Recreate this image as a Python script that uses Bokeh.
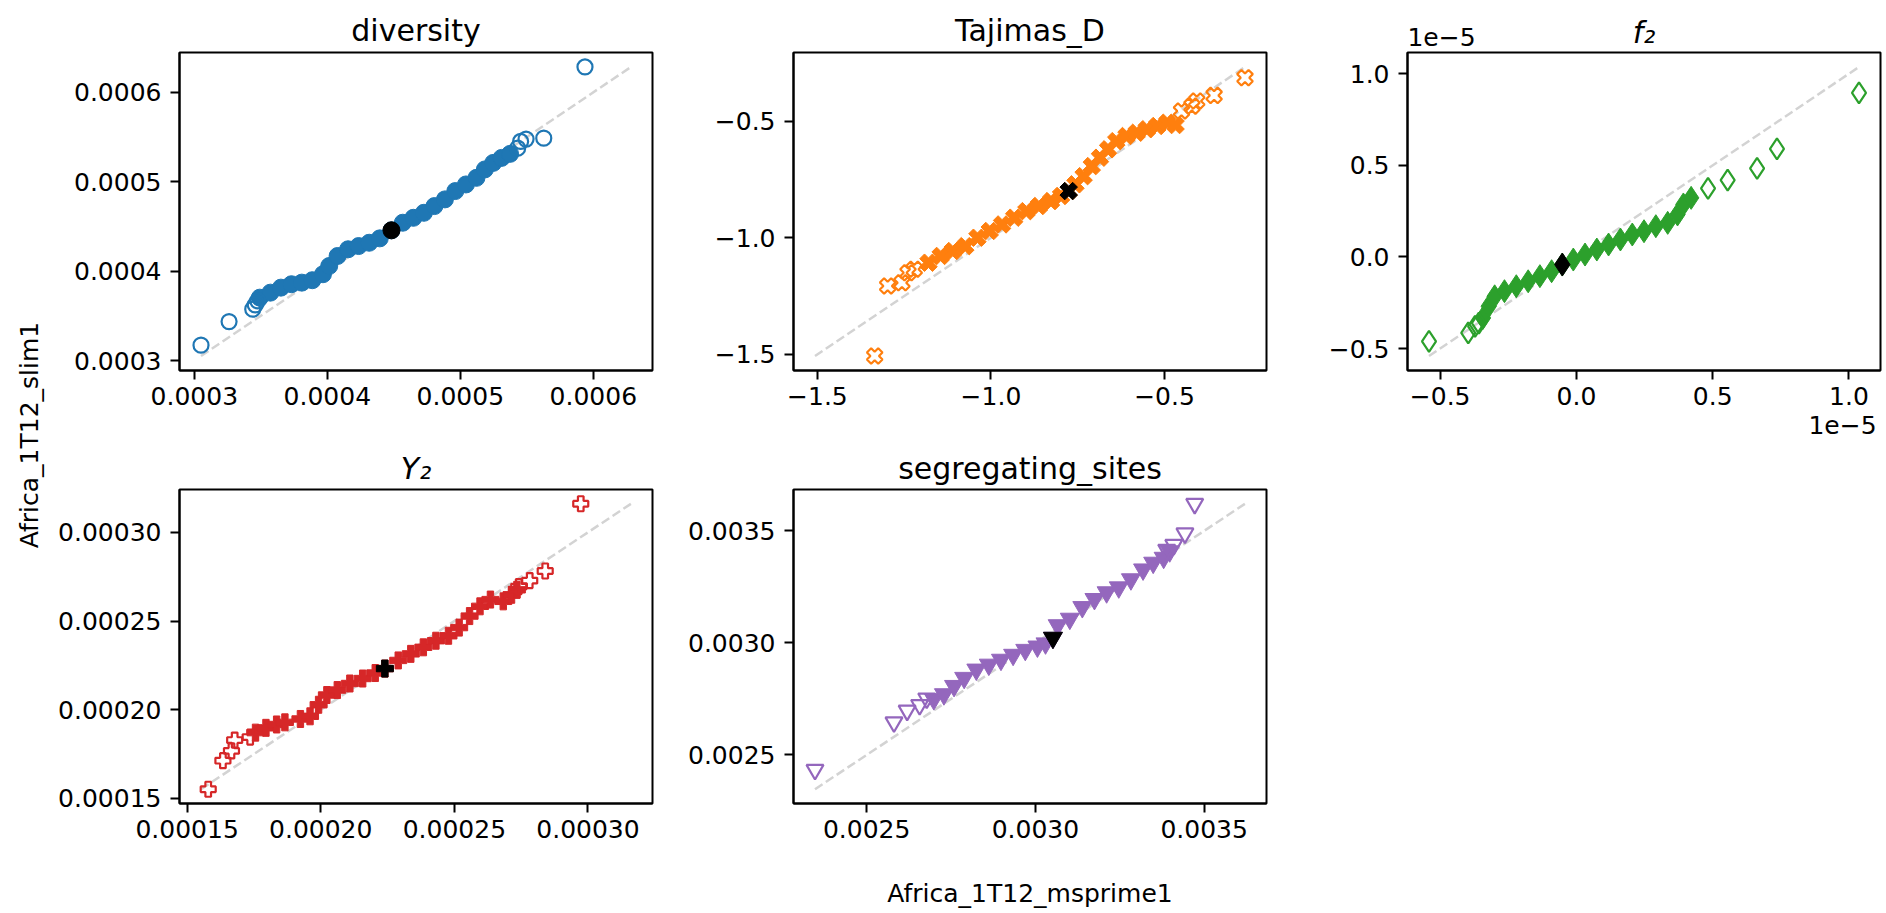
import math
from bokeh.plotting import figure
from bokeh.layouts import row, column
from bokeh.models import Range1d, FixedTicker, CustomJSTickFormatter, LinearAxis, Title
from bokeh.embed import file_html
from bokeh.resources import INLINE

FONT = "DejaVu Sans"

# ---------------- data ----------------
# diversity
div_band_x = [0.0003492, 0.0003572, 0.0003651, 0.0003730, 0.0003808, 0.0003887, 0.0003967, 0.0004014,
              0.0004077, 0.0004156, 0.0004235, 0.0004315, 0.0004394, 0.0004482, 0.0004567, 0.0004647,
              0.0004726, 0.0004805, 0.0004884, 0.0004962, 0.0005042, 0.0005121, 0.0005184, 0.0005247,
              0.0005310, 0.0005374]
div_band_y = [0.0003703, 0.0003759, 0.0003815, 0.0003853, 0.0003871, 0.0003898, 0.0003965, 0.0004057,
              0.0004169, 0.0004244, 0.0004280, 0.0004317, 0.0004366, 0.0004456, 0.0004541, 0.0004596,
              0.0004652, 0.0004727, 0.0004802, 0.0004895, 0.0004969, 0.0005043, 0.0005137, 0.0005210,
              0.0005266, 0.0005311]
div_tail_x = [0.0003050, 0.0003261, 0.0003439, 0.0003458, 0.0003476, 0.0005431, 0.0005453, 0.0005494,
              0.0005627, 0.0005937]
div_tail_y = [0.0003172, 0.0003435, 0.0003574, 0.0003622, 0.0003667, 0.0005375, 0.0005450, 0.0005476,
              0.0005487, 0.0006283]
div_mean_x = [0.0004482]
div_mean_y = [0.0004456]
div_ticks = [0.0003, 0.0004, 0.0005, 0.0006]

# Tajimas_D
taj_band_x = [-1.180, -1.145, -1.110, -1.074, -1.039, -1.0035, -0.968, -0.933, -0.898, -0.862, -0.827,
              -0.798, -0.776, -0.7565, -0.733, -0.7095, -0.686, -0.6625, -0.639, -0.6095, -0.580, -0.551,
              -0.521, -0.492, -0.468]
taj_band_y = [-1.107, -1.078, -1.057, -1.036, -1.000, -0.971, -0.943, -0.914, -0.886, -0.864, -0.843,
              -0.821, -0.800, -0.771, -0.736, -0.693, -0.657, -0.621, -0.586, -0.564, -0.550, -0.535,
              -0.521, -0.507, -0.517]
taj_tail_x = [-1.335, -1.2977, -1.2565, -1.239, -1.221, -0.451, -0.421, -0.407, -0.357, -0.268]
taj_tail_y = [-1.507, -1.207, -1.193, -1.150, -1.135, -0.457, -0.436, -0.414, -0.390, -0.314]
taj_mean_x = [-0.776]
taj_mean_y = [-0.800]
taj_ticks = [-1.5, -1.0, -0.5]

# f2 (values in units of 1e-5)
f2_band_x = [-0.343, -0.3216, -0.300, -0.264, -0.2206, -0.177, -0.134, -0.091, -0.0518, -0.0114, 0.0316,
             0.0749, 0.118, 0.1615, 0.205, 0.248, 0.2915, 0.335, 0.371, 0.3925, 0.421]
f2_band_y = [-0.333, -0.269, -0.215, -0.187, -0.160, -0.133, -0.105, -0.078, -0.0415, -0.0142, 0.0131,
             0.0404, 0.0678, 0.0951, 0.1224, 0.1404, 0.1678, 0.186, 0.2317, 0.2863, 0.3224]
f2_tail_x = [-0.541, -0.397, -0.372, -0.358, 0.483, 0.555, 0.663, 0.736, 1.037]
f2_tail_y = [-0.461, -0.415, -0.379, -0.361, 0.374, 0.419, 0.483, 0.590, 0.896]
f2_mean_x = [-0.0518]
f2_mean_y = [-0.0415]
f2_ticks = [-0.5, 0.0, 0.5, 1.0]
F2_OFFSET_TEXT = "1e\u22125"

# Y2
y2_band_x = [0.0001756, 0.0001795, 0.0001835, 0.0001866, 0.0001924, 0.0001960, 0.0001992, 0.0002023,
             0.0002062, 0.0002109, 0.0002157, 0.0002204, 0.0002240, 0.0002290, 0.0002337, 0.0002384,
             0.0002431, 0.0002478, 0.0002518, 0.0002557, 0.0002596, 0.0002635, 0.0002683, 0.0002714,
             0.0002734]
y2_band_y = [0.0001871, 0.0001898, 0.0001917, 0.0001929, 0.0001948, 0.0001963, 0.0002028, 0.0002083,
             0.0002111, 0.0002148, 0.0002176, 0.0002207, 0.0002232, 0.0002278, 0.0002315, 0.0002352,
             0.0002389, 0.0002417, 0.0002463, 0.0002528, 0.0002583, 0.0002621, 0.0002611, 0.0002648,
             0.0002676]
y2_tail_x = [0.0001579, 0.0001634, 0.0001666, 0.0001678, 0.0001736, 0.0002741, 0.0002782, 0.0002840, 0.0002973]
y2_tail_y = [0.0001552, 0.0001713, 0.0001768, 0.0001829, 0.0001846, 0.0002694, 0.0002728, 0.0002782, 0.0003161]
y2_mean_x = [0.0002240]
y2_mean_y = [0.0002232]
y2_ticks = [0.00015, 0.00020, 0.00025, 0.00030]

# segregating_sites
seg_band_x = [0.002699, 0.002729, 0.002759, 0.002789, 0.002825, 0.002862, 0.002898, 0.002934, 0.002970,
              0.003006, 0.003030, 0.003052, 0.003066, 0.003102, 0.003139, 0.003175, 0.003211, 0.003247,
              0.003283, 0.003319, 0.003349, 0.003380, 0.003398]
seg_band_y = [0.002749, 0.002771, 0.002808, 0.002844, 0.002881, 0.002903, 0.002925, 0.002947, 0.002969,
              0.002984, 0.002998, 0.003023, 0.003079, 0.003108, 0.003160, 0.003196, 0.003226, 0.003248,
              0.003284, 0.003328, 0.003358, 0.003380, 0.003409]
seg_tail_x = [0.002347, 0.002581, 0.002620, 0.002657, 0.002678, 0.003389, 0.003410, 0.003443, 0.003472]
seg_tail_y = [0.002434, 0.002646, 0.002698, 0.002723, 0.002752, 0.003416, 0.003438, 0.003489, 0.003621]
seg_mean_x = [0.003052]
seg_mean_y = [0.003023]
seg_ticks = [0.0025, 0.0030, 0.0035]

X_LABEL = "Africa_1T12_msprime1"
Y_LABEL = "Africa_1T12_slim1"

BLUE, ORANGE, GREEN, RED, PURPLE = "#1f77b4", "#ff7f0e", "#2ca02c", "#d62728", "#9467bd"

FRAME_W, FRAME_H = 473, 318


def make_panel(title, bx, by, tx, ty, mx, my, ticks, dec, color, marker, size, angle=0.0,
               ml=131, mr=10, mt=52, mb=74, italic=False, title_standoff=10):
    allv = bx + by + tx + ty + mx + my
    lo, hi = min(allv), max(allv)
    pad = 0.05 * (hi - lo)
    p = figure(width=ml + FRAME_W + mr, height=mt + FRAME_H + mb,
               min_border_left=ml, min_border_right=mr, min_border_top=mt, min_border_bottom=mb,
               x_range=Range1d(lo - pad, hi + pad), y_range=Range1d(lo - pad, hi + pad),
               toolbar_location=None, output_backend="svg",
               background_fill_color="white", border_fill_color="white",
               outline_line_color="black", outline_line_width=2)
    p.title.text = title
    p.title.align = "center"
    p.title.text_font = FONT
    p.title.text_font_size = "30px"
    p.title.text_font_style = "italic" if italic else "normal"
    p.title.text_color = "black"
    p.title.standoff = title_standoff
    p.xgrid.visible = False
    p.ygrid.visible = False
    fmt = CustomJSTickFormatter(args=dict(d=dec),
                                code="return tick.toFixed(d).replace('-', '\\u2212');")
    for ax in (p.xaxis[0], p.yaxis[0]):
        ax.ticker = FixedTicker(ticks=ticks)
        ax.formatter = fmt
        ax.major_tick_out = 9
        ax.major_tick_in = 0
        ax.minor_tick_out = 0
        ax.minor_tick_in = 0
        ax.major_tick_line_width = 2
        ax.axis_line_width = 2
        ax.major_label_text_font = FONT
        ax.major_label_text_font_size = "25px"
        ax.major_label_text_color = "black"
    p.xaxis[0].major_label_standoff = 7
    p.yaxis[0].major_label_standoff = 9

    p.line([lo, hi], [lo, hi], line_color="#d3d3d3", line_dash="9 4", line_width=2.5)
    p.scatter(bx, by, marker=marker, size=size + 2, angle=angle,
              fill_color=color, line_color=color, line_width=1)
    p.scatter(tx, ty, marker=marker, size=size, angle=angle,
              fill_color=None, line_color=color, line_width=2.2)
    p.scatter(mx, my, marker=marker, size=size + 2, angle=angle,
              fill_color="black", line_color="black", line_width=1)
    return p


def text_axis(text, tick_value, standoff, **kw):
    return LinearAxis(ticker=FixedTicker(ticks=[tick_value]),
                      formatter=CustomJSTickFormatter(code="return %r;" % text),
                      major_tick_out=0, major_tick_in=0, minor_tick_out=0, minor_tick_in=0,
                      axis_line_color=None, major_label_standoff=standoff,
                      major_label_text_font=FONT, major_label_text_font_size="25px",
                      major_label_text_color="black", **kw)


p1 = make_panel("diversity", div_band_x, div_band_y, div_tail_x, div_tail_y, div_mean_x, div_mean_y,
                div_ticks, 4, BLUE, "circle", 15, ml=129)
p2 = make_panel("Tajimas_D", taj_band_x, taj_band_y, taj_tail_x, taj_tail_y, taj_mean_x, taj_mean_y,
                taj_ticks, 1, ORANGE, "plus", 16, angle=math.pi / 4)
p3 = make_panel("", f2_band_x, f2_band_y, f2_tail_x, f2_tail_y, f2_mean_x, f2_mean_y,
                f2_ticks, 1, GREEN, "diamond", 21, mr=4)
p4 = make_panel("Y\u2082", y2_band_x, y2_band_y, y2_tail_x, y2_tail_y, y2_mean_x, y2_mean_y,
                y2_ticks, 5, RED, "plus", 15, ml=129, mt=43, mb=105, italic=True, title_standoff=8)
p5 = make_panel("segregating_sites", seg_band_x, seg_band_y, seg_tail_x, seg_tail_y, seg_mean_x, seg_mean_y,
                seg_ticks, 4, PURPLE, "inverted_triangle", 17, mt=43, mb=105, title_standoff=8)

# f2 panel: offset texts and the title (as an axis above the frame)
p3.title.visible = False
xs, xe = p3.x_range.start, p3.x_range.end
top_ax = text_axis(F2_OFFSET_TEXT, xs + 34.0 / FRAME_W * (xe - xs), 7,
                   axis_label="f\u2082", axis_label_text_font=FONT, axis_label_text_font_size="30px",
                   axis_label_text_font_style="italic", axis_label_text_color="black",
                   axis_label_standoff=-25)
p3.add_layout(top_ax, "above")
bot_ax = text_axis(F2_OFFSET_TEXT, xe - 38.0 / FRAME_W * (xe - xs), 8)
p3.add_layout(bot_ax, "below")

# shared x label (under the segregating_sites panel)
p5.xaxis[0].axis_label = X_LABEL
p5.xaxis[0].axis_label_text_font = FONT
p5.xaxis[0].axis_label_text_font_size = "25px"
p5.xaxis[0].axis_label_text_font_style = "normal"
p5.xaxis[0].axis_label_text_color = "black"
p5.xaxis[0].axis_label_standoff = 38

# shared y label
yl = figure(width=50, height=910, min_border_left=44, min_border_right=0,
            min_border_top=0, min_border_bottom=41,
            x_range=Range1d(0, 1), y_range=Range1d(0, 1),
            toolbar_location=None, output_backend="svg", outline_line_color=None,
            x_axis_type=None, y_axis_type=None,
            background_fill_color="white", border_fill_color="white")
yl.title.visible = False
yl.add_layout(Title(text=Y_LABEL, align="center", text_font=FONT, text_font_size="25px",
                    text_font_style="normal", text_color="black", standoff=2), "left")

layout = row(yl, column(row(p1, p2, p3), row(p4, p5)))

open("out.html", "w").write(file_html(layout, INLINE))
